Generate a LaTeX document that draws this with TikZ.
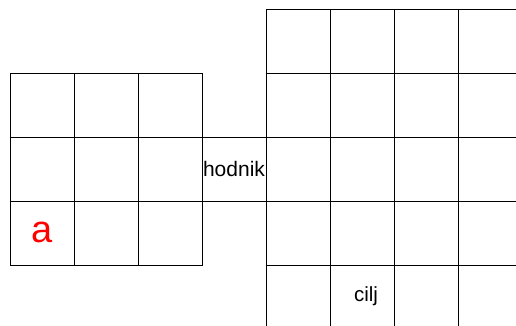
\documentclass[tikz,border=0pt]{standalone}
\usepackage{fontspec}
\setmainfont{Liberation Sans}
\begin{document}
\begin{tikzpicture}[x=1pt,y=-1pt,
  cell/.style={draw=black,line width=0.9pt,minimum width=64pt,minimum height=64pt,inner sep=0pt,outer sep=0pt,anchor=center},
  lbl/.style={font=\fontsize{21}{23}\selectfont,inner sep=0pt}]
\useasboundingbox (0,0) rectangle (516,325);
\fill[white] (0,0) rectangle (516,325);
\clip (0,0) rectangle (516,325);
% left 3x3 grid
\foreach \i in {0,1,2}{
  \foreach \j in {0,1,2}{
    \node[cell] (L\i\j) at ({42+64*\i},{105+64*\j}) {};
  }
}
% corridor
\node[cell] (H) at (234,169) {};
% right grid
\foreach \i in {0,1,2,3}{
  \foreach \j in {0,1,2,3,4}{
    \node[cell] (R\i\j) at ({298+64*\i},{41+64*\j}) {};
  }
}
\node[lbl] (hod) at (H.center) {hodnik};
\node[lbl,font=\fontsize{20.5}{22}\selectfont] (cilj) at (366,296) {cilj};
\node[lbl,text=red,font=\fontsize{38}{40}\selectfont] (a) at (42,232) {a};
\end{tikzpicture}
\end{document}
